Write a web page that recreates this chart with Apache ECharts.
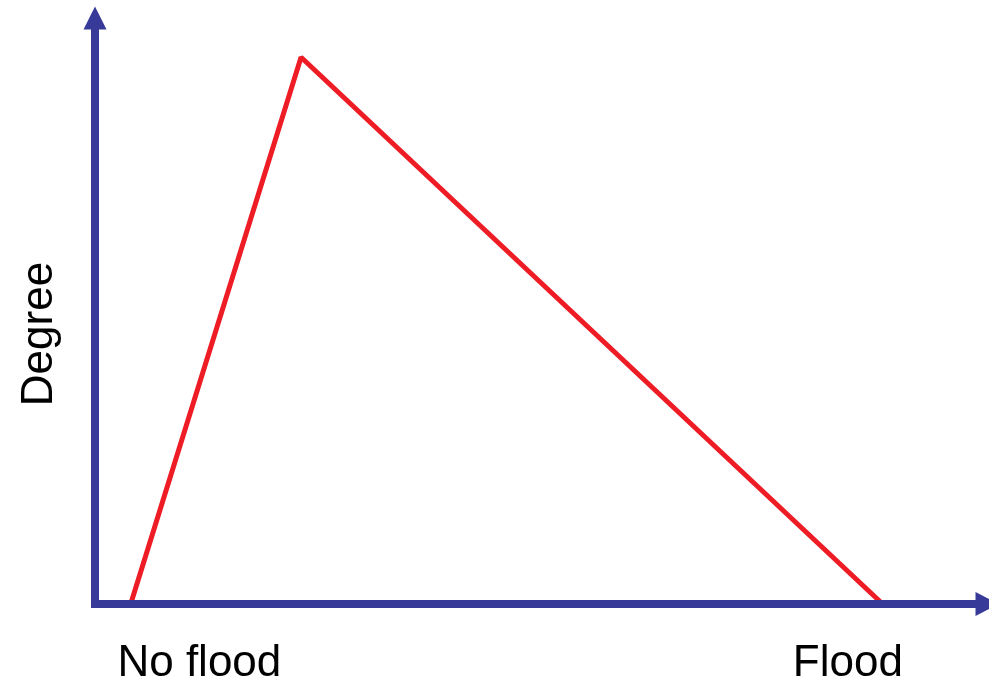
<!DOCTYPE html>
<html>
<head>
<meta charset="utf-8">
<script src="https://cdn.jsdelivr.net/npm/echarts@6/dist/echarts.min.js"></script>
<style>html,body{margin:0;padding:0;background:#fff}#c{width:989px;height:685px}</style>
</head>
<body>
<div id="c"></div>
<script>
// Data
var xValues = [4, 23.1, 88.3];
var yValues = [0, 93.3, 0];
var xLabelValues = [11.7, 84.4];
var xLabelTexts = ['No flood', 'Flood'];
var yAxisTitle = 'Degree';

var blue = '#373a98';
var red = '#ee1c25';
var font = '"Liberation Sans", Arial, sans-serif';

var chart = echarts.init(document.getElementById('c'));
chart.setOption({
  animation: false,
  grid: { left: 95, right: 2, top: 18, bottom: 81, containLabel: false, outerBoundsMode: 'none' },
  xAxis: {
    type: 'value', min: 0, max: 100, z: 5,
    splitLine: { show: false },
    axisTick: { show: false },
    axisLine: { show: true, symbol: ['none', 'triangle'], symbolSize: [24, 23],
      lineStyle: { color: blue, width: 8, cap: 'square' } },
    axisLabel: {
      show: true, customValues: xLabelValues, margin: 38,
      fontSize: 44, fontFamily: font, color: '#000',
      formatter: function (v) {
        var i = xLabelValues.indexOf(v);
        return i >= 0 ? xLabelTexts[i] : '';
      }
    }
  },
  yAxis: {
    type: 'value', min: 0, max: 100, z: 5,
    splitLine: { show: false },
    axisTick: { show: false },
    axisLabel: { show: false },
    axisLine: { show: true, symbol: ['none', 'triangle'], symbolSize: [23, 23],
      lineStyle: { color: blue, width: 8, cap: 'square' } },
    name: yAxisTitle, nameLocation: 'middle', nameRotate: 90, nameGap: 33,
    nameTextStyle: { fontSize: 44, fontFamily: font, color: '#000', padding: [0, 46, 0, 0] }
  },
  series: [{
    type: 'line',
    data: xValues.map(function (x, i) { return [x, yValues[i]]; }),
    symbol: 'none',
    lineStyle: { color: red, width: 5 },
    z: 2
  }]
});
</script>
</body>
</html>
